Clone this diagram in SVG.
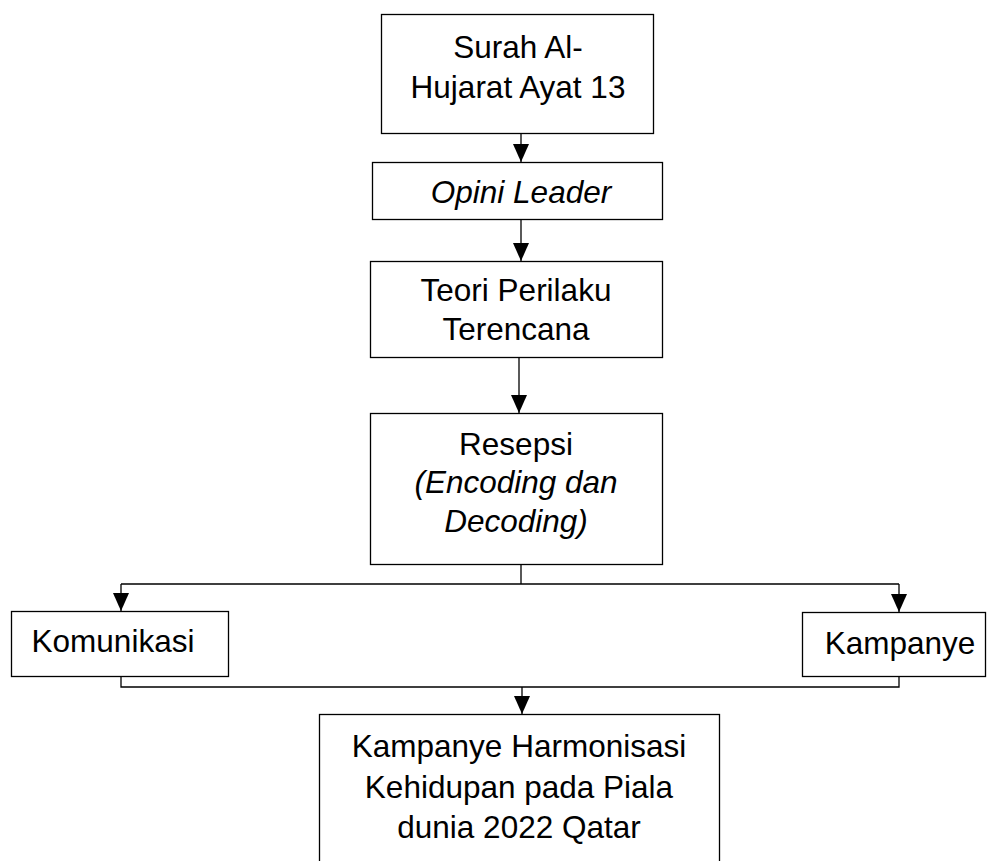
<svg xmlns="http://www.w3.org/2000/svg" width="987" height="861" viewBox="0 0 987 861">
<defs>
<style>
.box{fill:#fff;stroke:#000;stroke-width:1.3}
.t{font-family:"Liberation Sans",Arial,sans-serif;font-size:31.5px;fill:#000;text-anchor:middle}
.i{font-style:italic}
.ln{fill:none;stroke:#000;stroke-width:1.3}
.ah{fill:#000}
</style>
</defs>
<rect width="987" height="861" fill="#fff"/>
<g id="connectors">
<path class="ln" d="M521,133 V162"/>
<path class="ah" d="M513,144 L529,144 L521,162 Z"/>
<path class="ln" d="M521,219 V261"/>
<path class="ah" d="M513,243 L529,243 L521,261 Z"/>
<path class="ln" d="M519,358 V413"/>
<path class="ah" d="M511,395 L527,395 L519,413 Z"/>
<path class="ln" d="M521,564 V584 M121,584 H899 M121,584 V611 M899,584 V612"/>
<path class="ah" d="M113,593 L129,593 L121,611 Z"/>
<path class="ah" d="M891,594 L907,594 L899,612 Z"/>
<path class="ln" d="M121,676 V687 H899 V676 M522,687 V714"/>
<path class="ah" d="M514,696 L530,696 L522,714 Z"/>
</g>
<g id="n1">
<rect class="box" x="381.5" y="14.5" width="272" height="119"/>
<text class="t" x="518" y="58">Surah Al-</text>
<text class="t" x="518" y="98">Hujarat Ayat 13</text>
</g>
<g id="n2">
<rect class="box" x="372.5" y="162.5" width="290" height="57"/>
<text class="t i" x="521" y="203">Opini Leader</text>
</g>
<g id="n3">
<rect class="box" x="370.5" y="261.5" width="292" height="96"/>
<text class="t" x="516" y="301">Teori Perilaku</text>
<text class="t" x="516" y="340">Terencana</text>
</g>
<g id="n4">
<rect class="box" x="370.5" y="413.5" width="292" height="151"/>
<text class="t" x="516" y="455">Resepsi</text>
<text class="t i" x="516" y="493">(Encoding dan</text>
<text class="t i" x="516" y="532">Decoding)</text>
</g>
<g id="n5">
<rect class="box" x="11.5" y="611.5" width="217" height="65"/>
<text class="t" x="113" y="652">Komunikasi</text>
</g>
<g id="n6">
<rect class="box" x="802.5" y="612.5" width="183" height="64"/>
<text class="t" x="900" y="654">Kampanye</text>
</g>
<g id="n7">
<rect class="box" x="319.5" y="714.5" width="400" height="160"/>
<text class="t" x="519" y="757">Kampanye Harmonisasi</text>
<text class="t" x="519" y="798">Kehidupan pada Piala</text>
<text class="t" x="519" y="838">dunia 2022 Qatar</text>
</g>
</svg>
